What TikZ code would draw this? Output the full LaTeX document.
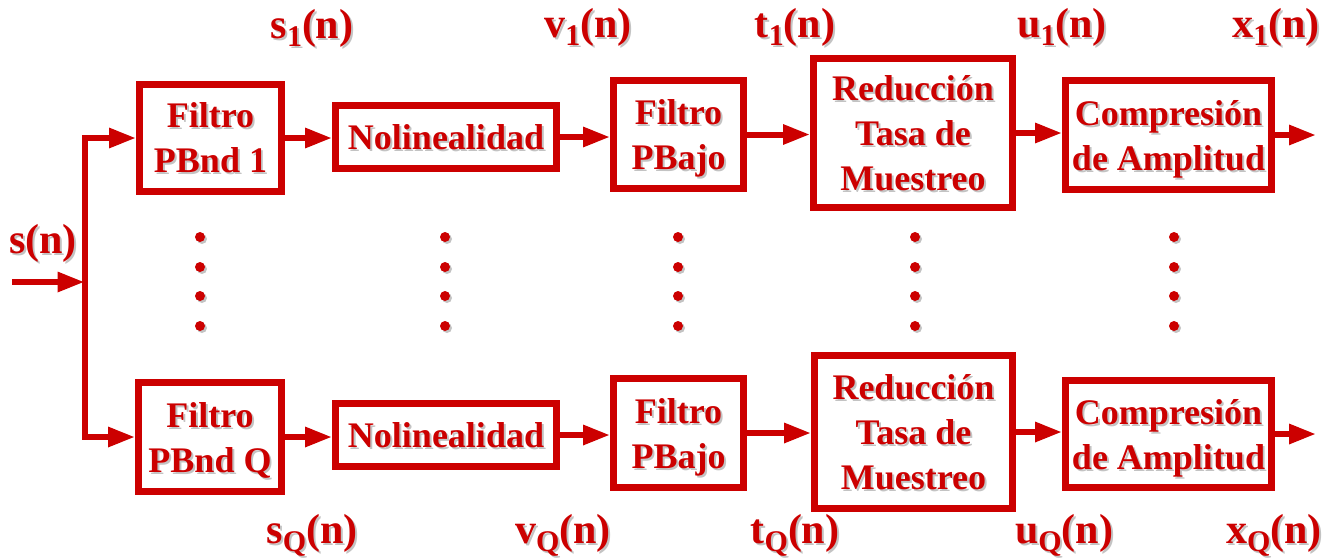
\documentclass[tikz,border=0pt]{standalone}
\usepackage{fontspec}
\setmainfont{Liberation Serif}
\usetikzlibrary{arrows.meta}
\definecolor{dred}{RGB}{204,0,0}
\definecolor{shadowc}{RGB}{195,195,195}
\newcommand{\shd}[1]{\makebox[0pt][l]{\kern2pt\raisebox{-2pt}{\textcolor{shadowc}{#1}}}#1}
\newcommand{\lab}[2]{\shd{#1\raisebox{-8pt}{\fontsize{30}{30}\selectfont #2}(n)}}
\tikzset{
  box/.style={draw=dred, line width=7pt, outer sep=3.5pt, inner sep=0pt, text=dred,
    font=\bfseries\fontsize{36}{45}\selectfont, align=center, text depth=0pt},
  sig/.style={text=dred, anchor=base, inner sep=0pt, font=\bfseries\fontsize{42}{42}\selectfont},
  arr/.style={draw=dred, line width=6pt, -{Triangle[length=27pt,width=19pt]}},
  bus/.style={draw=dred, line width=5pt, line join=miter}
}
\begin{document}
\begin{tikzpicture}[x=1pt,y=-1pt]
\useasboundingbox (0,0) rectangle (1340,558);
% top row
\node[box, minimum width=142pt, minimum height=107pt] (F1) at (210.5,138) {\shd{Filtro}\\\shd{PBnd 1}};
\node[box, minimum width=221pt, minimum height=63pt] (N1) at (446,137) {\shd{Nolinealidad}};
\node[box, minimum width=130pt, minimum height=108pt] (P1) at (678.5,134.5) {\shd{Filtro}\\\shd{PBajo}};
\node[box, minimum width=199pt, minimum height=149pt] (R1) at (913,133) {\shd{Reducción}\\\shd{Tasa de}\\\shd{Muestreo}};
\node[box, minimum width=206pt, minimum height=109pt] (C1) at (1168.5,135) {\shd{Compresión}\\\shd{de Amplitud}};
% bottom row
\node[box, minimum width=143pt, minimum height=109pt] (FQ) at (210,437) {\shd{Filtro}\\\shd{PBnd Q}};
\node[box, minimum width=221pt, minimum height=63pt] (NQ) at (446,435) {\shd{Nolinealidad}};
\node[box, minimum width=130pt, minimum height=109pt] (PQ) at (678.5,433) {\shd{Filtro}\\\shd{PBajo}};
\node[box, minimum width=198pt, minimum height=153pt] (RQ) at (913.5,432) {\shd{Reducción}\\\shd{Tasa de}\\\shd{Muestreo}};
\node[box, minimum width=206pt, minimum height=107pt] (CQ) at (1168.5,434) {\shd{Compresión}\\\shd{de Amplitud}};
% signal labels
\node[sig] (sin) at (43,253) {\shd{s(n)}};
\node[sig] (ls1) at (312,38) {\lab{s}{1}};
\node[sig] (lv1) at (588,37) {\lab{v}{1}};
\node[sig] (lt1) at (795,37) {\lab{t}{1}};
\node[sig] (lu1) at (1062,37) {\lab{u}{1}};
\node[sig] (lx1) at (1276,37) {\lab{x}{1}};
\node[sig] (lsQ) at (312,543) {\lab{s}{Q}};
\node[sig] (lvQ) at (563,543) {\lab{v}{Q}};
\node[sig] (ltQ) at (795,543) {\lab{t}{Q}};
\node[sig] (luQ) at (1064,543) {\lab{u}{Q}};
\node[sig] (lxQ) at (1274,543) {\lab{x}{Q}};
% input and split
\coordinate (in) at (12,282);
\coordinate (split) at (84.5,282);
\coordinate (o1) at (1316,135);
\coordinate (oQ) at (1316,434);
\draw[arr] (in) -- (split);
\draw[bus, arr] (split) |- (F1.west);
\draw[bus, arr] (split) |- (FQ.west);
% top chain
\draw[arr] (F1.east) -- (F1.east -| N1.west);
\draw[arr] (N1.east) -- (N1.east -| P1.west);
\draw[arr] (P1.east) -- (P1.east -| R1.west);
\draw[arr] (R1.east) -- (R1.east -| C1.west);
\draw[arr] (C1.east) -- (C1.east -| o1);
% bottom chain
\draw[arr] (FQ.east) -- (FQ.east -| NQ.west);
\draw[arr] (NQ.east) -- (NQ.east -| PQ.west);
\draw[arr] (PQ.east) -- (PQ.east -| RQ.west);
\draw[arr] (RQ.east) -- (RQ.east -| CQ.west);
\draw[arr] (CQ.east) -- (CQ.east -| oQ);
% vertical dots
\foreach \x in {200,445,678,915,1174}{
  \foreach \y in {237,267,296,326}{
    \fill[shadowc] (\x+2,\y+2) circle (5pt);
    \fill[dred] (\x,\y) circle (5pt);
  }
}
\end{tikzpicture}
\end{document}
